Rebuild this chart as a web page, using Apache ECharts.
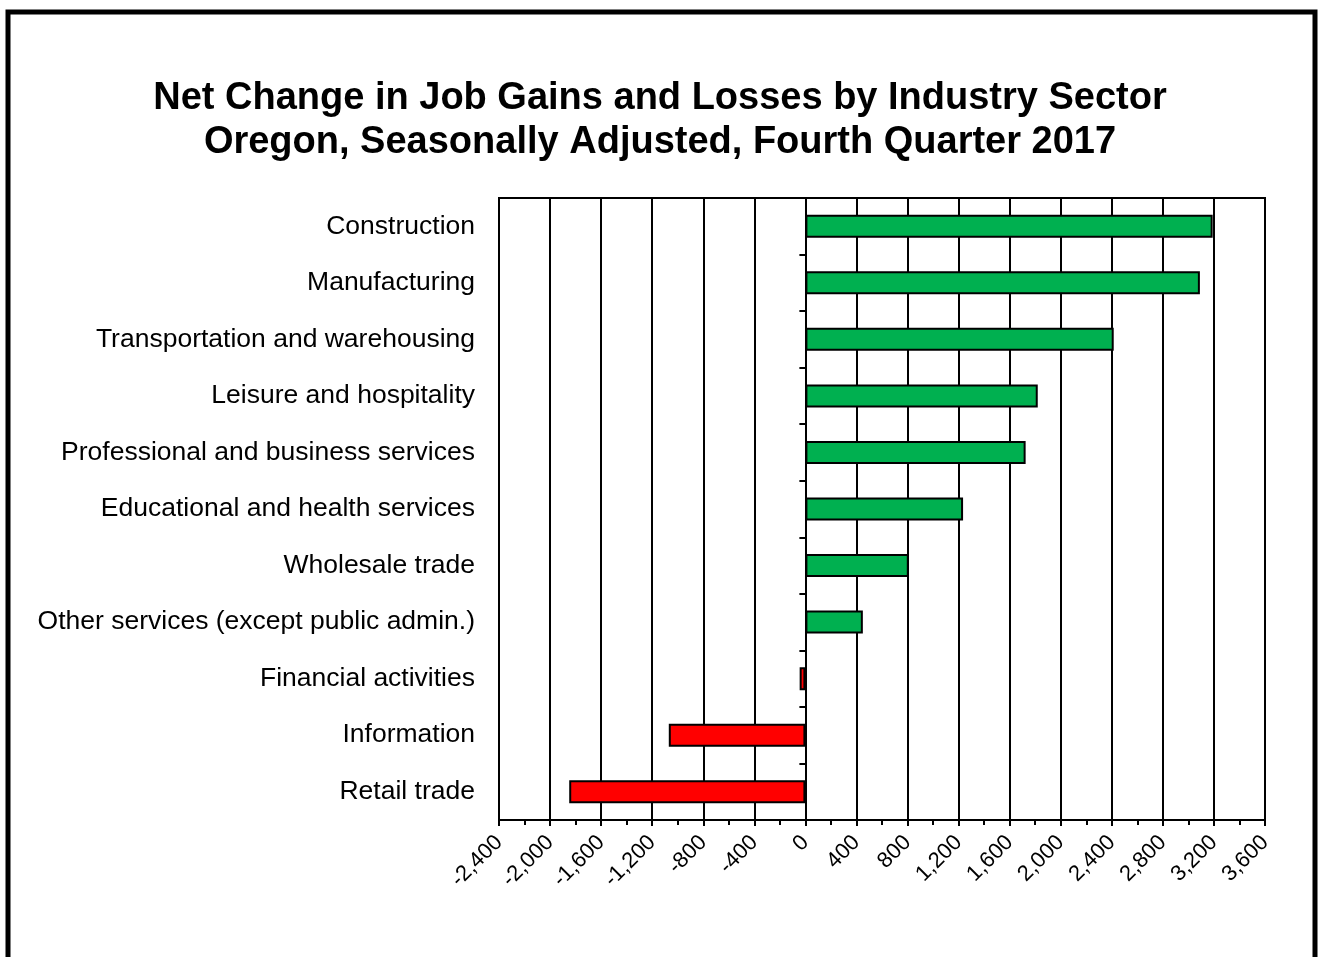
<!DOCTYPE html>
<html>
	<head>
		<meta charset="UTF-8">
		<title>Net Change in Job Gains and Losses</title>
		<style>
			html,body{margin:0;padding:0;background:#fff;overflow:hidden;}
			#charts{width:1320px;height:957px;}
		</style>
	</head>
	<body>
		<div id="charts"></div>
	</body>
	<script src="https://cdn.jsdelivr.net/npm/echarts@6/dist/echarts.min.js"></script>
	<script>
		var mycharts = echarts.init(document.getElementById('charts'))
		// sectors, top to bottom
		var categories = [
			'Construction',
			'Manufacturing',
			'Transportation and warehousing',
			'Leisure and hospitality',
			'Professional and business services',
			'Educational and health services',
			'Wholesale trade',
			'Other services (except public admin.)',
			'Financial activities',
			'Information',
			'Retail trade'
		];
		// net change in jobs
		var netChange = [3190, 3090, 2415, 1820, 1725, 1235, 810, 450, -45, -1070, -1850];
		var titleLines = [
			'Net Change in Job Gains and Losses by Industry Sector',
			'Oregon, Seasonally Adjusted, Fourth Quarter 2017'
		];
		var font = 'Liberation Sans, Arial, sans-serif';

		option = {
			backgroundColor: '#fff',
			animation: false,
			title: {
				text: titleLines.join('\n'),
				left: 'center',
				top: 72,
				textStyle: {
					fontFamily: font,
					fontSize: 38,
					fontWeight: 'bold',
					lineHeight: 44,
					color: '#000'
				}
			},
			// outer frame
			graphic: [{
				type: 'rect',
				silent: true,
				shape: {x: 8, y: 12, width: 1307, height: 1000},
				style: {fill: null, stroke: '#000', lineWidth: 5}
			}],
			grid: {
				left: 499,
				right: 55,
				top: 198,
				bottom: 137,
				show: true,
				borderColor: '#000',
				borderWidth: 2
			},
			xAxis: {
				type: 'value',
				min: -2400,
				max: 3600,
				interval: 400,
				axisLine: {show: true, onZero: false, lineStyle: {color: '#000', width: 2}},
				axisTick: {show: true, length: 6, lineStyle: {color: '#000', width: 2}},
				minorTick: {show: true, splitNumber: 2, length: 5, lineStyle: {color: '#000', width: 2}},
				splitLine: {show: true, lineStyle: {color: '#000', width: 2}},
				axisLabel: {
					rotate: 45,
					margin: 19,
					fontFamily: font,
					fontSize: 22,
					color: '#000',
					formatter: function (v) {
						return v.toLocaleString('en-US');
					}
				}
			},
			yAxis: [
				{
					//标签轴
					type: 'category',
					position: 'left',
					inverse: true,
					data: categories,
					axisLine: {show: false, onZero: false},
					axisTick: {show: false},
					axisLabel: {
						margin: 24,
						padding: [7, 0, 0, 0],
						fontFamily: font,
						fontSize: 26.5,
						color: '#000'
					}
				},
				{
					//零线上的刻度
					type: 'category',
					position: 'left',
					inverse: true,
					data: categories,
					axisLine: {show: true, onZero: true, lineStyle: {color: '#000', width: 2}},
					axisTick: {show: true, length: 6, lineStyle: {color: '#000', width: 2}},
					axisLabel: {show: false}
				}
			],
			series: [
				{
					name: 'Net change',
					type: 'bar',
					yAxisIndex: 0,
					data: netChange,
					barWidth: 23,
					itemStyle: {
						color: function (p) {
							return p.value >= 0 ? '#00B050' : '#FF0000';
						},
						borderColor: '#000',
						borderWidth: 2
					}
				}
			]
		}
		mycharts.setOption(option);
	</script>
</html>
